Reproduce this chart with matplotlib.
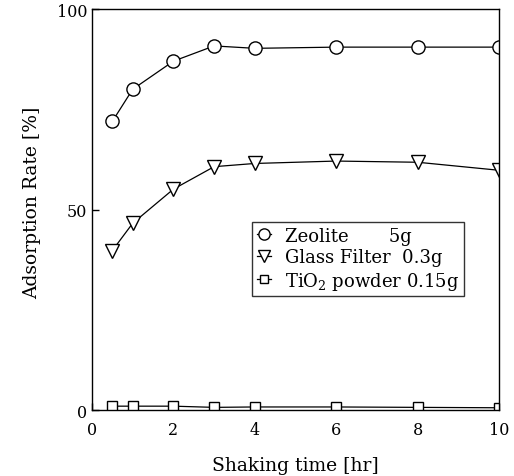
import numpy as np
import matplotlib
matplotlib.use('Agg')
from matplotlib import pyplot as plt

plt.rcParams['font.family'] = 'serif'
plt.rcParams['font.serif'] = ['DejaVu Serif']
plt.rcParams['mathtext.fontset'] = 'dejavuserif'

# data
time_zeo = [0.5, 1, 2, 3, 4, 6, 8, 10]
zeolite = [72, 80, 87, 90.8, 90.2, 90.5, 90.5, 90.5]
time_gf = [0.5, 1, 2, 3, 4, 6, 8, 10]
glass = [39.8, 46.6, 55.1, 60.7, 61.5, 62.1, 61.8, 59.8]
time_ti = [0.5, 1, 2, 3, 4, 6, 8, 10]
tio2 = [1.0, 1.0, 1.0, 0.7, 0.8, 0.8, 0.7, 0.6]

labels = ['Zeolite       5g', 'Glass Filter  0.3g', 'TiO$_2$ powder 0.15g']
xticks = [0, 2, 4, 6, 8, 10]
yticks = [0, 50, 100]

fig = plt.figure(figsize=(5.14, 4.77), dpi=100)
ax = fig.add_axes([0.179, 0.138, 0.792, 0.841])

ax.plot(time_zeo, zeolite, '-o', color='black', lw=0.9, ms=9.5,
        mfc='white', mec='black', mew=1.0, label=labels[0])
ax.plot(time_gf, glass, '-v', color='black', lw=0.9, ms=9.5,
        mfc='white', mec='black', mew=1.0, label=labels[1])
ax.plot(time_ti, tio2, '-s', color='black', lw=0.9, ms=7.5,
        mfc='white', mec='black', mew=1.0, label=labels[2])

ax.set_xlim(0, 10)
ax.set_ylim(0, 100)
ax.set_xticks(xticks)
ax.set_yticks(yticks)
ax.tick_params(direction='in', length=5, labelsize=11.5, width=1)
ax.tick_params(axis='x', pad=8)
for s in ax.spines.values():
    s.set_linewidth(1)

ax.set_xlabel('Shaking time [hr]', fontsize=13.5, labelpad=13)
ax.set_ylabel('Adsorption Rate [%]', fontsize=13.5)
ax.yaxis.set_label_coords(-0.125, 0.52)

leg = ax.legend(loc='upper left', bbox_to_anchor=(0.393, 0.469), fontsize=13,
                frameon=True, fancybox=False, edgecolor='black',
                handlelength=0.8, handletextpad=0.8, borderpad=0.25,
                labelspacing=0.2, borderaxespad=0, markerscale=0.85)
leg.get_frame().set_linewidth(1)

fig.savefig('out.png', dpi=100)
